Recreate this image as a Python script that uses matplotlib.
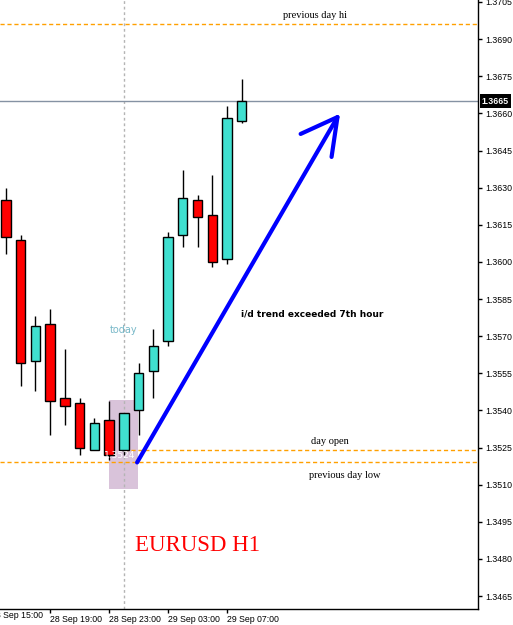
import numpy as np
import matplotlib.pyplot as plt
from matplotlib.patches import Rectangle
import matplotlib.transforms as mtrans

# hourly EURUSD bars, 28 Sep 16:00 .. 29 Sep 08:00
opens  = [1.3625, 1.3609, 1.3560, 1.3575, 1.3545, 1.3543, 1.3524, 1.3536, 1.3524,
          1.3540, 1.3556, 1.3568, 1.3611, 1.3625, 1.3619, 1.3601, 1.3657]
highs  = [1.3630, 1.3611, 1.3578, 1.3581, 1.3565, 1.3545, 1.3537, 1.3544, 1.3539,
          1.3559, 1.3573, 1.3612, 1.3637, 1.3627, 1.3635, 1.3663, 1.3674]
lows   = [1.3603, 1.3550, 1.3548, 1.3530, 1.3534, 1.3522, 1.3524, 1.3520, 1.3522,
          1.3530, 1.3545, 1.3566, 1.3606, 1.3606, 1.3598, 1.3599, 1.3656]
closes = [1.3610, 1.3559, 1.3574, 1.3544, 1.3542, 1.3525, 1.3535, 1.3522, 1.3539,
          1.3555, 1.3566, 1.3610, 1.3626, 1.3618, 1.3600, 1.3658, 1.3665]

prev_day_hi = 1.3696
prev_day_low = 1.3519
day_open = 1.3524
last_price = 1.3665
today_bar = 8

ytick_vals = [1.3465, 1.3480, 1.3495, 1.3510, 1.3525, 1.3540, 1.3555, 1.3570, 1.3585,
              1.3600, 1.3615, 1.3630, 1.3645, 1.3660, 1.3675, 1.3690, 1.3705]
xtick_pos = [3, 7, 11, 15]
xtick_labels = ["28 Sep 19:00", "28 Sep 23:00", "29 Sep 03:00", "29 Sep 07:00"]

fig = plt.figure(figsize=(5.13, 6.25), dpi=100)
ax = fig.add_axes([0, 16/625, 478/513, 609/625])

idx = np.arange(len(opens))
o = np.array(opens); c = np.array(closes)
bull = c >= o
cols = np.where(bull, "#40e0d0", "#ff0000")

ax.vlines(idx, lows, highs, color="black", lw=1, zorder=3)
ax.bar(idx, np.abs(c - o), bottom=np.minimum(o, c), width=0.64,
       color=cols, edgecolor="black", linewidth=1, zorder=4)

# day separator
ax.axvline(today_bar, color="#b4b4b4", lw=1, ls=(0, (2, 2)), zorder=1)
ax.text(today_bar, 1.35725, "today", color="#78b8c8", fontsize=7,
        ha="center", va="center", family="DejaVu Sans")

# levels
ax.axhline(prev_day_hi, color="#ffa000", lw=1, ls=(0, (3, 2)), zorder=2)
ax.axhline(prev_day_low, color="#ffa000", lw=1, ls=(0, (3, 2)), zorder=2)
ax.hlines(day_open, today_bar, 40, color="#ffa000", lw=1, ls=(0, (3, 2)), zorder=2)
ax.axhline(last_price, color="#8592a3", lw=1, zorder=2)

ax.text(21.0, prev_day_hi + 0.00018, "previous day hi", family="Liberation Serif",
        fontsize=7.5, ha="center", va="bottom")
ax.text(22.0, day_open + 0.00018, "day open", family="Liberation Serif",
        fontsize=7.5, ha="center", va="bottom")
ax.text(23.0, prev_day_low - 0.00035, "previous day low", family="Liberation Serif",
        fontsize=7.5, ha="center", va="top")

# box at the day's low
ax.add_patch(Rectangle((7.0, 1.35083), 1.94, 1.35442 - 1.35083,
                       facecolor="#d9c3da", edgecolor="none", zorder=0))
ax.text(7.7, 1.3522, "1.3524", color="white", fontsize=6.5, ha="center",
        va="center", family="DejaVu Sans", zorder=5)

# hand-drawn arrow
ax.plot([8.9, 22.5], [prev_day_low, 1.36585], color="#0000ff", lw=3,
        solid_capstyle="round", zorder=6)
ax.plot([20.0, 22.5, 22.1], [1.36517, 1.36585, 1.36424], color="#0000ff", lw=3,
        solid_capstyle="round", solid_joinstyle="round", zorder=6)

ax.text(20.8, 1.35789, "i/d trend exceeded 7th hour", fontsize=6.5,
        fontweight="bold", ha="center", va="center", family="DejaVu Sans")
ax.text(13.0, 1.34856, "EURUSD H1", color="#ff0000", fontsize=16.5,
        ha="center", va="center", family="Liberation Serif")

ax.set_xlim(-0.407, 32.04)
ax.set_ylim(1.34598, 1.37058)

for s in ["left", "top"]:
    ax.spines[s].set_visible(False)
ax.spines["right"].set_linewidth(1)
ax.spines["bottom"].set_linewidth(1)

ax.yaxis.tick_right()
ax.set_yticks(ytick_vals)
ax.set_yticklabels([f"{v:.4f}" for v in ytick_vals], family="Liberation Sans", fontsize=6.3)
ax.tick_params(axis="y", length=3, width=1, pad=2)
ax.set_xticks(xtick_pos)
ax.set_xticklabels(xtick_labels, family="Liberation Sans", fontsize=6.3, ha="left")
ax.tick_params(axis="x", length=3, width=1, pad=1)
ax.text(-1, -0.004, "28 Sep 15:00", transform=mtrans.blended_transform_factory(ax.transData, ax.transAxes),
        family="Liberation Sans", fontsize=6.3, ha="left", va="top", clip_on=False)

# current price tag
tr = mtrans.blended_transform_factory(ax.transAxes, ax.transData)
ax.text(1.008, last_price, "1.3665", transform=tr, color="white", fontsize=6.3,
        family="Liberation Sans", fontweight="bold", ha="left", va="center",
        bbox=dict(boxstyle="square,pad=0.25", facecolor="black", edgecolor="none"),
        clip_on=False, zorder=10)

fig.savefig("out.png", dpi=100)
